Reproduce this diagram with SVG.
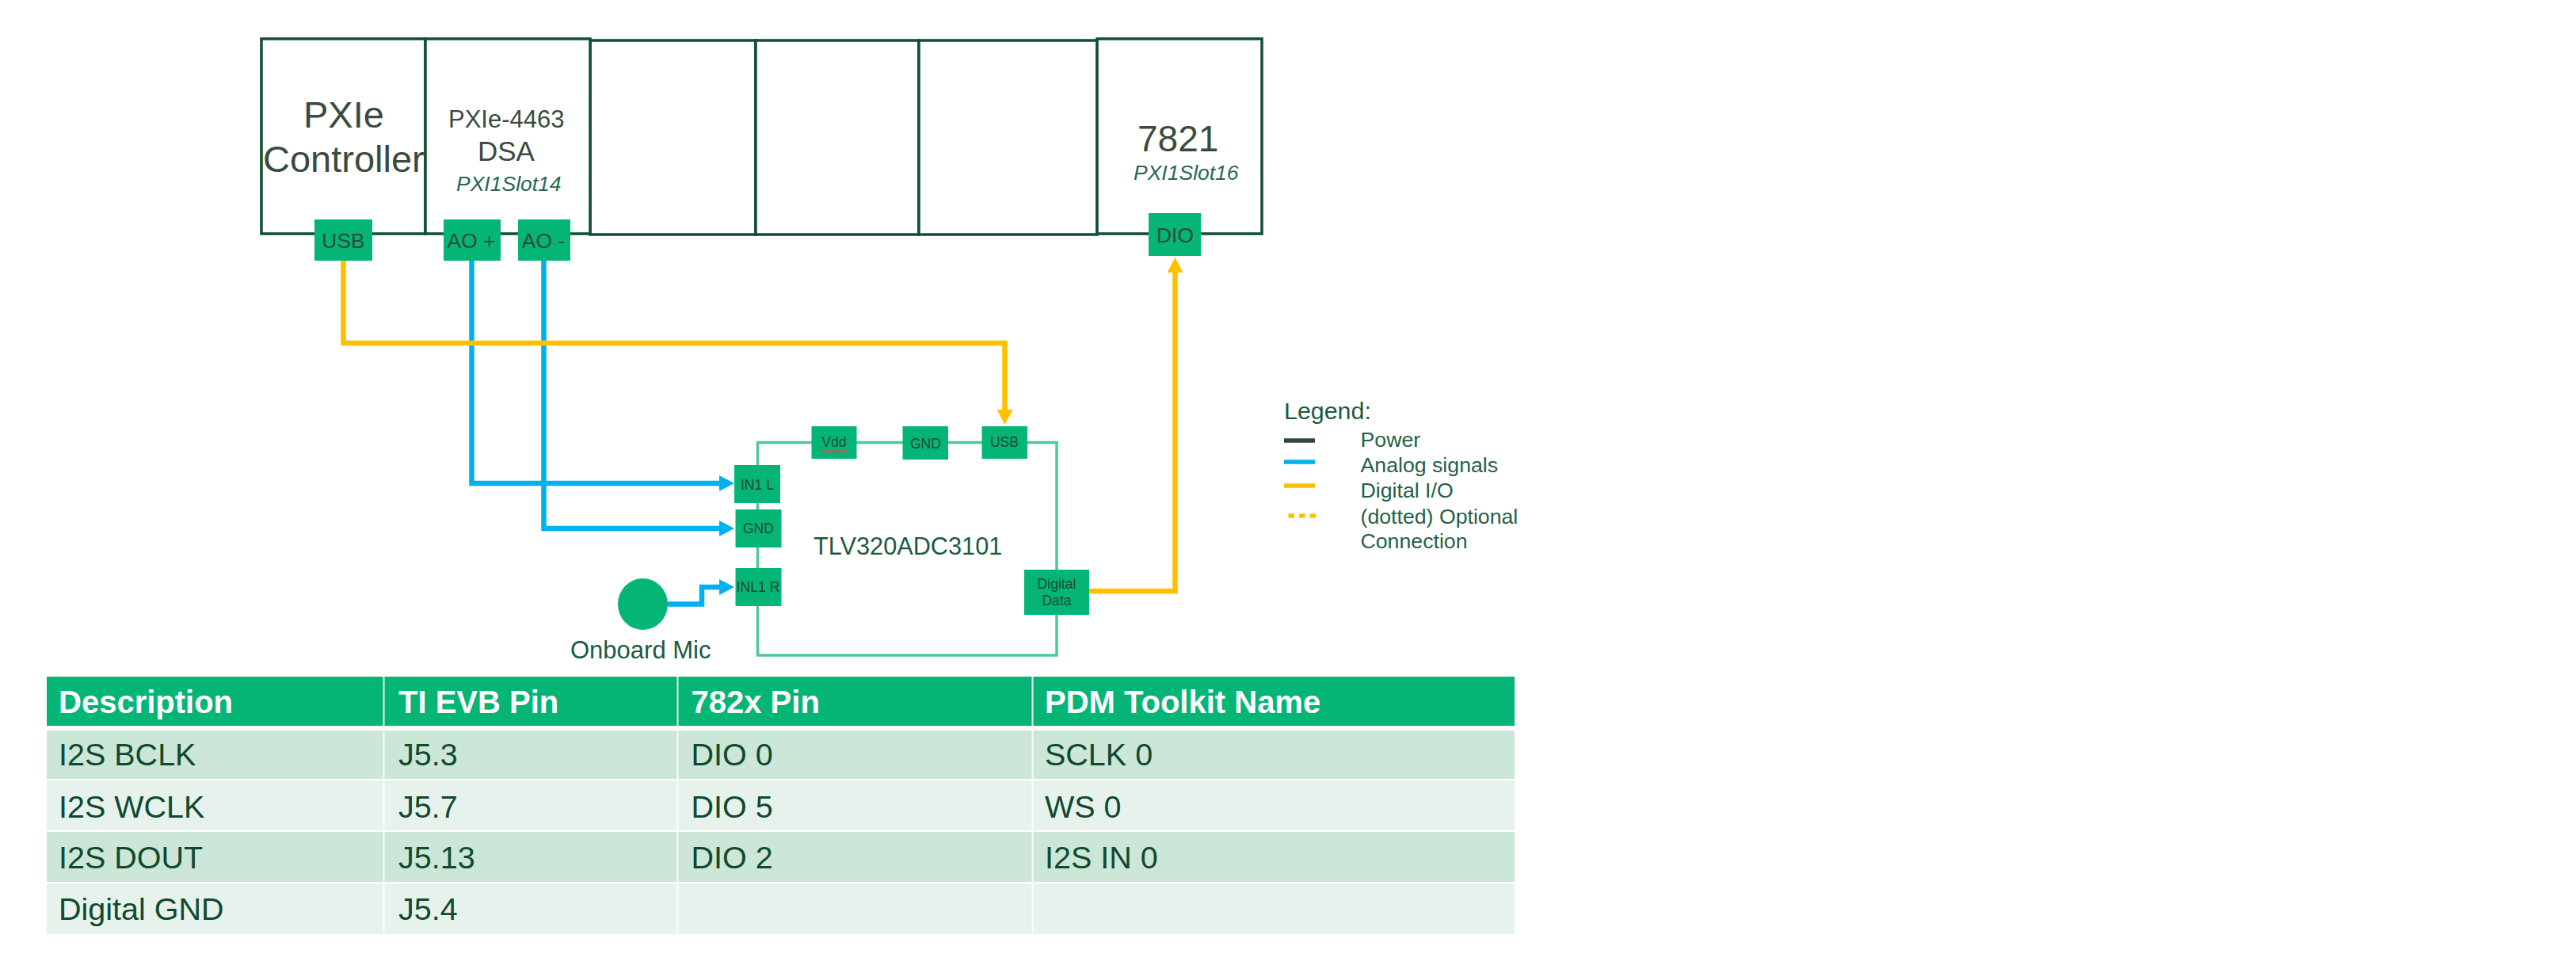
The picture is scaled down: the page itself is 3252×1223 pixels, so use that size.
<svg xmlns="http://www.w3.org/2000/svg" width="3252" height="1223" viewBox="0 0 3252 1223">
<style>
text{font-family:"Liberation Sans",Arial,sans-serif;fill:#1c5a3e}
.box{fill:#fff;stroke:#0f4f33;stroke-width:3.5}
.port{fill:#04b576}
.pl{font-size:26.4px;fill:#2f4a38;text-anchor:middle}
.ps{font-size:17.6px;fill:#1f4a34;text-anchor:middle}
.title{fill:#3a4a3c}
.slot{font-size:26.5px;font-style:italic;fill:#2a6650}
.chip{fill:none;stroke:#4fc89b;stroke-width:3.5}
.wire{fill:none;stroke-width:6.5}
.blue{stroke:#00b0f0}
.yellow{stroke:#ffc000}
.lg{font-size:26.7px;fill:#246048}
.th{font-size:40px;font-weight:bold;fill:#fff}
.td{font-size:39.5px;fill:#0f4a2e}
.head{fill:#04b576}
.r1{fill:#cce6d8}
.r2{fill:#e7f2ec}
</style>
<defs>
<marker id="ab" markerUnits="userSpaceOnUse" markerWidth="20" markerHeight="22" refX="1" refY="11" orient="auto"><path d="M0 1L19 11L0 21Z" fill="#00b0f0"/></marker>
<marker id="ay" markerUnits="userSpaceOnUse" markerWidth="20" markerHeight="22" refX="1" refY="11" orient="auto"><path d="M0 1L19 11L0 21Z" fill="#ffc000"/></marker>
</defs>
<rect width="3252" height="1223" fill="#fff"/>

<g id="slot-empty-1"><rect class="box" x="745" y="51" width="209" height="245"/></g>
<g id="slot-empty-2"><rect class="box" x="954" y="51" width="206" height="245"/></g>
<g id="slot-empty-3"><rect class="box" x="1160" y="51" width="225" height="245"/></g>

<g id="pxie-controller">
<rect class="box" x="330" y="49" width="207" height="246"/>
<text class="title" x="383" y="161" font-size="47">PXIe</text>
<text class="title" x="332" y="217" font-size="47">Controller</text>
<rect class="port" x="397" y="277" width="73" height="52"/>
<text class="pl" x="433.5" y="313">USB</text>
</g>
<g id="pxie-4463">
<rect class="box" x="537" y="49" width="208" height="246"/>
<text class="title" x="566" y="161" font-size="31">PXIe-4463</text>
<text class="title" x="603" y="203" font-size="35">DSA</text>
<text class="slot" x="576" y="241">PXI1Slot14</text>
<rect class="port" x="560" y="277" width="72" height="52"/>
<text class="pl" x="595" y="313">AO +</text>
<rect class="port" x="654" y="277" width="66" height="52"/>
<text class="pl" x="686" y="313">AO -</text>
</g>
<g id="module-7821">
<rect class="box" x="1385" y="49" width="208" height="246"/>
<text class="title" x="1436" y="191" font-size="46">7821</text>
<text class="slot" x="1431" y="227">PXI1Slot16</text>
<rect class="port" x="1450" y="269" width="66" height="54"/>
<text class="pl" x="1483.5" y="306">DIO</text>
</g>

<g id="chip-tlv320adc3101">
<rect class="chip" x="956.5" y="558.5" width="377.5" height="268.5"/>
<text x="1027" y="700" font-size="30.7">TLV320ADC3101</text>
<rect class="port" x="1024.5" y="538" width="57" height="41"/>
<text class="ps" x="1053" y="564">Vdd</text>
<path d="M1037 568l3 3l3-3l3 3l3-3l3 3l3-3l3 3l3-3l3 3l3-3l3 3" fill="none" stroke="#d0504a" stroke-width="1.6"/>
<rect class="port" x="1139.5" y="538" width="57.5" height="42"/>
<text class="ps" x="1168.5" y="566">GND</text>
<rect class="port" x="1239.5" y="538" width="57.5" height="41"/>
<text class="ps" x="1268" y="564">USB</text>
<rect class="port" x="927" y="587" width="58" height="48"/>
<text class="ps" x="956" y="618">IN1 L</text>
<rect class="port" x="928.5" y="643" width="58" height="48"/>
<text class="ps" x="957.5" y="673">GND</text>
<rect class="port" x="928.5" y="717" width="58" height="48"/>
<text class="ps" x="957" y="747">INL1 R</text>
<rect class="port" x="1293" y="719" width="82" height="57"/>
<text class="ps" x="1334" y="743">Digital</text>
<text class="ps" x="1334" y="764">Data</text>
</g>

<g id="onboard-mic">
<ellipse cx="811.5" cy="762.5" rx="31.5" ry="32.5" fill="#04b576"/>
<text x="720" y="831" font-size="31">Onboard Mic</text>
</g>

<g id="legend">
<text x="1621" y="529" font-size="30.4">Legend:</text>
<text class="lg" x="1717.5" y="564">Power</text>
<text class="lg" x="1717.5" y="596">Analog signals</text>
<text class="lg" x="1717.5" y="628">Digital I/O</text>
<text class="lg" x="1717.5" y="661">(dotted) Optional</text>
<text class="lg" x="1717.5" y="692">Connection</text>
<path d="M1621 556H1660" stroke="#33463a" stroke-width="5.5"/>
<path d="M1621 583H1660" stroke="#00b0f0" stroke-width="5.5"/>
<path d="M1621 613H1660" stroke="#ffc000" stroke-width="5.5"/>
<path d="M1626.5 651H1661" stroke="#ffc000" stroke-width="5.5" stroke-dasharray="7.5 6"/>
</g>

<g id="pin-table">
<rect class="head" x="59" y="854" width="1853" height="62"/>
<rect class="r1" x="59" y="922" width="1853" height="61"/>
<rect class="r2" x="59" y="985" width="1853" height="63"/>
<rect class="r1" x="59" y="1050" width="1853" height="63"/>
<rect class="r2" x="59" y="1115" width="1853" height="64"/>
<path d="M484.5 854V1179M855.5 854V1179M1303.5 854V1179" stroke="#fff" stroke-width="2" opacity=".9"/>
<text class="th" x="74" y="900">Description</text>
<text class="th" x="503" y="900">TI EVB Pin</text>
<text class="th" x="872.5" y="900">782x Pin</text>
<text class="th" x="1319" y="900">PDM Toolkit Name</text>
<text class="td" x="74" y="966">I2S BCLK</text>
<text class="td" x="503" y="966">J5.3</text>
<text class="td" x="872.5" y="966">DIO 0</text>
<text class="td" x="1319" y="966">SCLK 0</text>
<text class="td" x="74" y="1031.5">I2S WCLK</text>
<text class="td" x="503" y="1031.5">J5.7</text>
<text class="td" x="872.5" y="1031.5">DIO 5</text>
<text class="td" x="1319" y="1031.5">WS 0</text>
<text class="td" x="74" y="1096">I2S DOUT</text>
<text class="td" x="503" y="1096">J5.13</text>
<text class="td" x="872.5" y="1096">DIO 2</text>
<text class="td" x="1319" y="1096">I2S IN 0</text>
<text class="td" x="74" y="1161">Digital GND</text>
<text class="td" x="503" y="1161">J5.4</text>
</g>

<g id="connectors">
<path class="wire blue" d="M595.5 329V610H909" marker-end="url(#ab)"/>
<path class="wire blue" d="M686.5 329V667H909" marker-end="url(#ab)"/>
<path class="wire blue" d="M843 762.5H886V741H909" marker-end="url(#ab)"/>
<path class="wire yellow" d="M433.5 329V433H1268.5V518" marker-end="url(#ay)"/>
<path class="wire yellow" d="M1375 746H1483.5V343" marker-end="url(#ay)"/>
</g>
</svg>
